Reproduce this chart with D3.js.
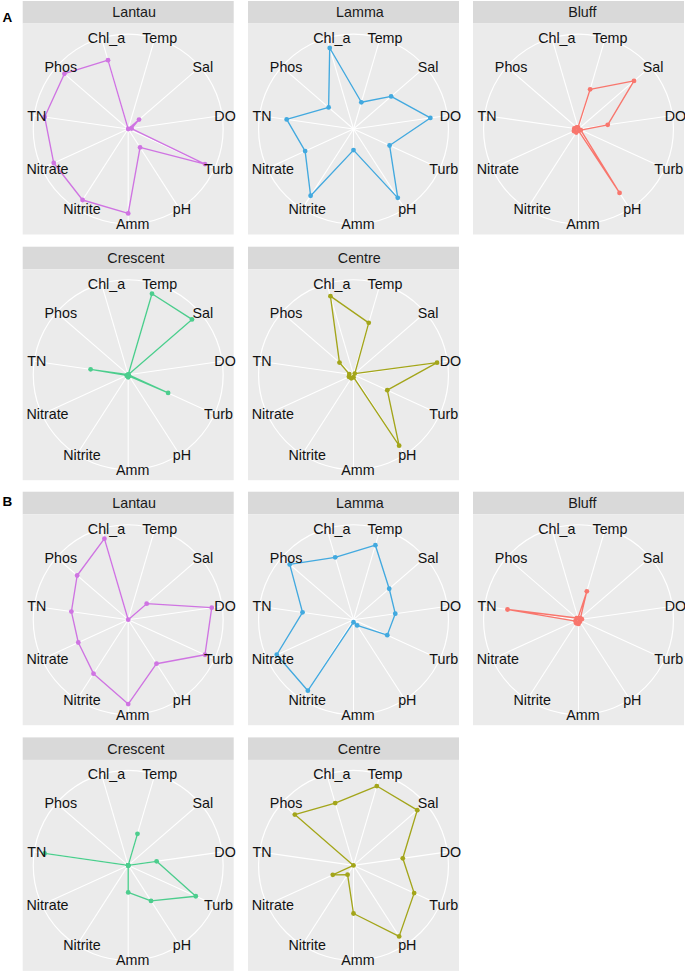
<!DOCTYPE html>
<html>
<head>
<meta charset="utf-8">
<script src="https://cdn.jsdelivr.net/npm/d3@7"></script>
<style>
  body { margin: 0; background: #fff; }
  svg text { font-family: "Liberation Sans", Arial, sans-serif; }
</style>
</head>
<body>
<svg id="chart" width="685" height="971"></svg>
<script>
// variables around the radar, clockwise from top
var variables = ["Temp", "Sal", "DO", "Turb", "pH", "Amm", "Nitrite", "Nitrate", "TN", "Phos", "Chl_a"];
var sites = ["Lantau", "Lamma", "Bluff", "Crescent", "Centre"];
var siteColors = ["#cf74e2", "#42a9df", "#f8766d", "#4ccd8d", "#a3a51a"];
var sectionLabels = ["A", "B"];

// panel A (scaled 0-1), order = variables
var aLantau   = [0.00, 0.17, 0.04, 1.00, 0.26, 1.00, 1.00, 0.97, 1.00, 1.00, 0.85];
var aLamma    = [0.33, 0.59, 0.92, 0.47, 0.97, 0.25, 0.94, 0.63, 0.80, 0.39, 1.00];
var aBluff    = [0.49, 0.87, 0.35, 0.03, 0.90, 0.02, 0.05, 0.06, 0.05, 0.03, 0.02];
var aCrescent = [1.00, 1.00, 0.00, 0.52, 0.02, 0.03, 0.02, 0.02, 0.45, 0.00, 0.00];
var aCentre   = [0.64, 0.02, 1.00, 0.44, 1.00, 0.03, 0.05, 0.06, 0.05, 0.22, 0.97];

// panel B
var bLantau   = [0.00, 0.29, 1.00, 1.00, 0.62, 1.00, 0.76, 0.65, 0.68, 0.80, 1.00];
var bLamma    = [0.92, 0.56, 0.50, 0.44, 0.08, 0.03, 1.00, 1.00, 0.61, 1.00, 0.77];
var bBluff    = [0.35, 0.03, 0.04, 0.02, 0.03, 0.05, 0.05, 0.04, 0.85, 0.03, 0.02];
var bCrescent = [0.39, 0.00, 0.34, 0.88, 0.50, 0.32, 0.00, 0.00, 1.00, 0.00, 0.00];
var bCentre   = [0.98, 1.00, 0.59, 0.79, 1.00, 0.57, 0.13, 0.27, 0.00, 0.92, 0.77];

var sectionData = [
  [aLantau, aLamma, aBluff, aCrescent, aCentre],
  [bLantau, bLamma, bBluff, bCrescent, bCentre]
];

var svg = d3.select("#chart");

// layout
var sectionTop = [1, 491.7];
var labelY = [17, 501.5];
var colX = [22.7, 248, 473];
var rowPitch = 245.7;
var stripH = 22.5;
var panelW = 211, panelH = 211;
var R = 0.45 * panelW;       // outer circle / label radius
var rMax = 0.4 * panelW;     // data max

var angle = d3.scaleBand().domain(variables).range([0, 2 * Math.PI]);
var r = d3.scaleLinear().domain([0, 1]).range([0, rMax]);
function ang(v) { return angle(v) + angle.bandwidth() / 2; }

var radarLine = d3.lineRadial()
  .angle(function(d) { return ang(d.key); })
  .radius(function(d) { return r(d.value); })
  .curve(d3.curveLinearClosed);

// the original text sits a little right of centre
function nudge(sel) {
  sel.attr("dx", function() { return 0.135 * this.getComputedTextLength(); });
}

sectionData.forEach(function(sec, s) {
  svg.append("text")
    .attr("x", 2.5).attr("y", labelY[s])
    .attr("dy", "0.35em")
    .attr("font-size", 13.5).attr("font-weight", "bold")
    .attr("fill", "#000")
    .text(sectionLabels[s]);

  sec.forEach(function(vals, k) {
    var col = k % 3, row = Math.floor(k / 3);
    var x0 = colX[col], y0 = sectionTop[s] + row * rowPitch;
    var g = svg.append("g").attr("transform", "translate(" + x0 + "," + y0 + ")");

    // strip
    g.append("rect").attr("width", panelW).attr("height", stripH).attr("fill", "#d9d9d9");
    g.append("text")
      .attr("x", panelW / 2).attr("y", stripH / 2).attr("dy", "0.36em")
      .attr("text-anchor", "middle").attr("font-size", 14.3).attr("fill", "#1a1a1a")
      .text(sites[k])
      .call(nudge);

    // panel
    g.append("rect").attr("y", stripH).attr("width", panelW).attr("height", panelH).attr("fill", "#ebebeb");

    var c = g.append("g").attr("transform", "translate(" + panelW / 2 + "," + (stripH + panelH / 2) + ")");

    c.append("circle").attr("r", R).attr("fill", "none").attr("stroke", "#fff").attr("stroke-width", 1.2);
    c.selectAll("line.spoke").data(variables).join("line")
      .attr("class", "spoke")
      .attr("x1", 0).attr("y1", 0)
      .attr("x2", function(v) { return d3.pointRadial(ang(v), R)[0]; })
      .attr("y2", function(v) { return d3.pointRadial(ang(v), R)[1]; })
      .attr("stroke", "#fff").attr("stroke-width", 1.1);

    var pts = variables.map(function(v, i) { return { key: v, value: vals[i] }; });

    c.append("path").datum(pts)
      .attr("d", radarLine)
      .attr("fill", "none")
      .attr("stroke", siteColors[k])
      .attr("stroke-width", 1.35)
      .attr("stroke-linejoin", "round");

    c.selectAll("circle.pt").data(pts).join("circle")
      .attr("class", "pt")
      .attr("cx", function(d) { return d3.pointRadial(ang(d.key), r(d.value))[0]; })
      .attr("cy", function(d) { return d3.pointRadial(ang(d.key), r(d.value))[1]; })
      .attr("r", 2.4)
      .attr("fill", siteColors[k]);

    c.selectAll("text.lab").data(variables).join("text")
      .attr("class", "lab")
      .attr("x", function(v) { return d3.pointRadial(ang(v), R)[0]; })
      .attr("y", function(v) { return d3.pointRadial(ang(v), R)[1]; })
      .attr("dy", "0.36em")
      .attr("text-anchor", "middle")
      .attr("font-size", 14.3)
      .attr("fill", "#111")
      .text(function(v) { return v; })
      .call(nudge);
  });
});
</script>
</body>
</html>
